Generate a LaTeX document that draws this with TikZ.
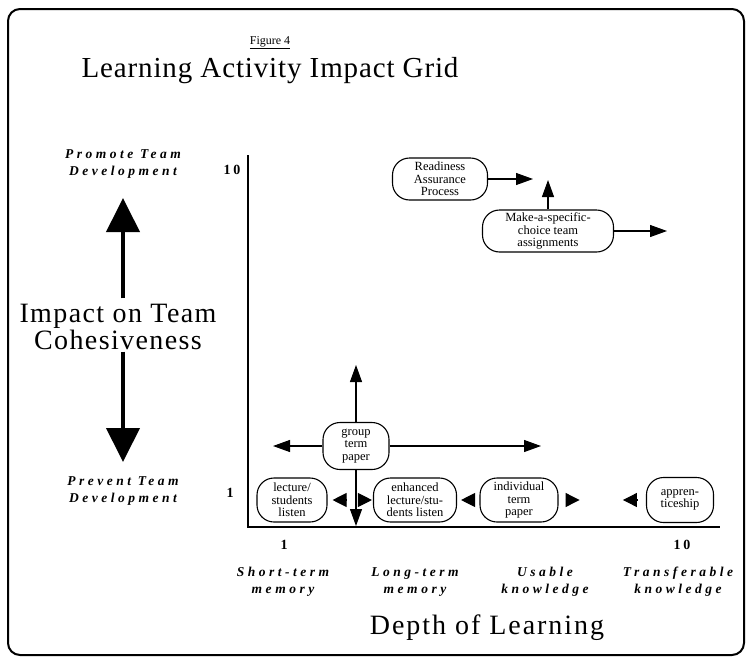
\documentclass[tikz,border=0pt]{standalone}
\usepackage{fontspec}
\setmainfont{Liberation Serif}
\usetikzlibrary{calc}
\usetikzlibrary{arrows.meta}

\begin{document}
\begin{tikzpicture}[x=1pt, y=-1pt,
        activity/.style={draw, line width=1.1pt, rounded corners=17pt, align=center, inner sep=1pt, font=\fontsize{12.5}{12.5}\selectfont},
        scalelabel/.style={align=center, font=\fontsize{13.5}{17}\selectfont\bfseries\itshape\addfontfeatures{LetterSpace=26}},
        tick/.style={font=\fontsize{14}{14}\selectfont\bfseries\addfontfeatures{LetterSpace=20}},
        push/.style={line width=1.1pt, -{Triangle[length=17pt, width=12pt]}},
        nudge/.style={line width=1.1pt, -{Triangle[length=14pt, width=14pt]}},
        bigpush/.style={line width=4pt, -{Triangle[length=34pt, width=33pt]}}]
                \useasboundingbox (0, 0) rectangle (747, 659);
                \draw[line width=2pt, rounded corners=12pt] (8, 9) rectangle (744, 655);
                \node (fig) at (270, 43) {\fontsize{12}{12}\selectfont\underline{Figure 4}};
                \node (title) at (270, 71) {\fontsize{29}{29}\selectfont\addfontfeatures{LetterSpace=3}Learning Activity Impact Grid};
                \node[scalelabel] (promote) at (123, 164) {Promote Team\\Development};
                \node[scalelabel] (prevent) at (123, 491) {Prevent Team\\Development};
                \node[align=center, inner sep=2pt, font=\fontsize{28}{25}\selectfont\addfontfeatures{LetterSpace=5}] (impact) at (118, 327) {Impact on Team\\Cohesiveness};
                \coordinate (upTip) at (123, 198);
                \coordinate (downTip) at (123, 462);
                \draw[bigpush] (impact.north -| upTip) ++(0, -4) -- (upTip);
                \draw[bigpush] (impact.south -| downTip) -- (downTip);
                \coordinate (top) at (248, 155);
                \coordinate (origin) at (248, 527);
                \coordinate (right) at (720, 527);
                \draw[line width=1.5pt] (top) -- (origin) -- (right);
                \node[tick] (ytop) at (232, 170) {10};
                \node[tick] (ybot) at (230, 493) {1};
                \node[tick] (xleft) at (284, 545) {1};
                \node[tick] (xright) at (682, 545) {10};
                \node[scalelabel] (short) at (283, 582) {Short-term\\memory};
                \node[scalelabel] (long) at (415, 582) {Long-term\\memory};
                \node[scalelabel] (usable) at (545, 582) {Usable\\knowledge};
                \node[scalelabel] (transfer) at (678, 582) {Transferable\\knowledge};
                \node[font=\fontsize{28}{28}\selectfont\addfontfeatures{LetterSpace=7}] (depth) at (487, 628) {Depth of Learning};
                \node[activity, minimum width=95pt, minimum height=42pt] (rap) at (440, 179) {Readiness\\Assurance\\Process};
                \node[activity, minimum width=131pt, minimum height=42pt] (mst) at (548, 231) {Make-a-specific-\\choice team\\assignments};
                \node[activity, minimum width=66pt, minimum height=47pt] (gtp) at (356, 446) {group\\term\\paper};
                \node[activity, minimum width=70pt, minimum height=44pt] (lecture) at (292, 500) {lecture/\\students\\listen};
                \node[activity, minimum width=83pt, minimum height=44pt] (enh) at (415, 500) {enhanced\\lecture/stu-\\dents listen};
                \node[activity, minimum width=78pt, minimum height=44pt] (ind) at (519, 500) {individual\\term\\paper};
                \node[activity, minimum width=67pt, minimum height=45pt] (app) at (680, 500) {appren-\\ticeship};
                \coordinate (rapTip) at (533, 179);
                \coordinate (mstUp) at (548, 180);
                \coordinate (mstRight) at (667, 231);
                \draw[push] (rap.east) -- (rapTip);
                \draw[push] (mst.north) -- (mstUp);
                \draw[push] (mst.east) -- (mstRight);
                \coordinate (gtpUp) at (356, 365);
                \coordinate (gtpLeft) at (273, 446);
                \coordinate (gtpRight) at (541, 446);
                \coordinate (gtpDown) at (356, 526);
                \draw[push] (gtp.north) -- (gtpUp);
                \draw[push] (gtp.west) -- (gtpLeft);
                \draw[push] (gtp.east) -- (gtpRight);
                \draw[push] (gtp.south) -- (gtpDown);
                \draw[nudge] ($(lecture.east)+(19, 0)$) -- ($(lecture.east)+(5, 0)$);
                \draw[nudge] ($(enh.west)+(-15, 0)$) -- ($(enh.west)+(-1, 0)$);
                \draw[nudge] ($(ind.west)+(-6, 0)$) -- ($(enh.east)+(4, 0)$);
                \draw[nudge] ($(ind.east)+(7, 0)$) -- ($(ind.east)+(21, 0)$);
                \draw[nudge] ($(app.west)+(-9, 0)$) -- ($(app.west)+(-23, 0)$);
            \end{tikzpicture}
\end{document}
